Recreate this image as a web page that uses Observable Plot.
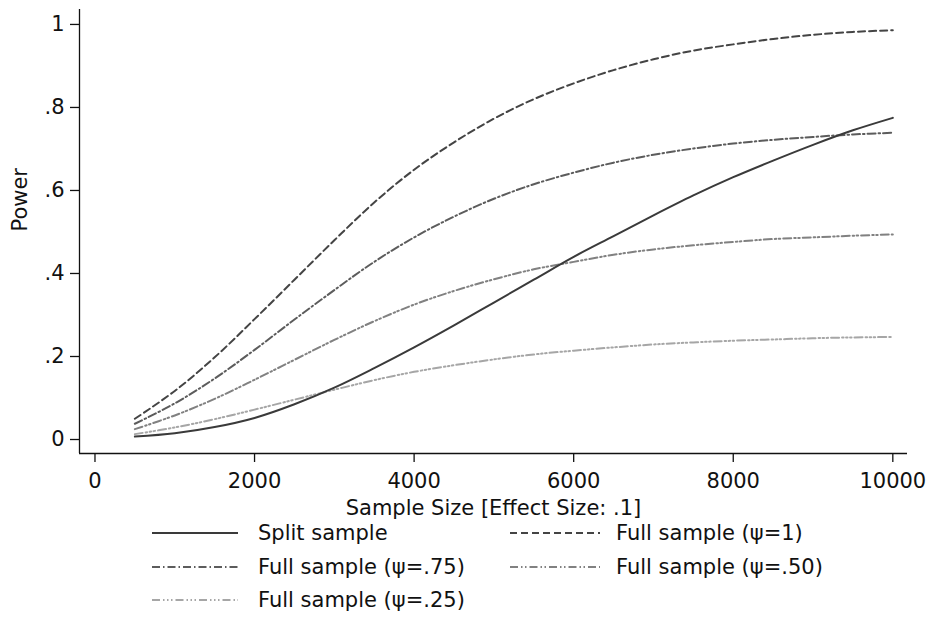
<!DOCTYPE html>
<html>
<head>
<meta charset="utf-8">
<script src="https://cdn.jsdelivr.net/npm/d3@7"></script>
<script src="https://cdn.jsdelivr.net/npm/@observablehq/plot@0.6"></script>
<style>
  html, body { margin: 0; padding: 0; background: #fff; }
  #wrap { position: relative; width: 930px; height: 638px; font-family: "DejaVu Sans", sans-serif; }
  .leg { position: absolute; display: flex; align-items: center; font-size: 21px; color: #111; white-space: nowrap; }
  .leg svg { margin-right: 20px; }
</style>
</head>
<body>
<div id="wrap"></div>
<script>
// ---- data ----
const sampleSize = [500,1000,1500,2000,2500,3000,3500,4000,4500,5000,5500,6000,6500,7000,7500,8000,8500,9000,9500,10000];
const splitSample = [0.007,0.015,0.030,0.052,0.085,0.125,0.172,0.222,0.275,0.330,0.385,0.440,0.490,0.540,0.588,0.632,0.672,0.710,0.745,0.775];
const fullPsi100 = [0.050,0.117,0.198,0.290,0.385,0.480,0.571,0.650,0.716,0.773,0.820,0.858,0.890,0.916,0.937,0.952,0.965,0.975,0.982,0.986];
const fullPsi75  = [0.038,0.087,0.147,0.216,0.289,0.360,0.428,0.487,0.537,0.580,0.615,0.643,0.667,0.686,0.701,0.713,0.722,0.729,0.735,0.739];
const fullPsi50  = [0.025,0.058,0.098,0.144,0.192,0.240,0.285,0.325,0.358,0.386,0.410,0.428,0.445,0.458,0.468,0.476,0.483,0.487,0.491,0.494];
const fullPsi25  = [0.013,0.029,0.049,0.072,0.096,0.120,0.143,0.163,0.179,0.193,0.205,0.214,0.222,0.229,0.234,0.238,0.241,0.244,0.246,0.247];

const seriesNames = ["Split sample","Full sample (ψ=1)","Full sample (ψ=.75)","Full sample (ψ=.50)","Full sample (ψ=.25)"];
const seriesValues = [splitSample, fullPsi100, fullPsi75, fullPsi50, fullPsi25];

const xTicks = [0,2000,4000,6000,8000,10000];
const yTicks = [0,0.2,0.4,0.6,0.8,1];
const yTickLabels = ["0",".2",".4",".6",".8","1"];
const xLabel = "Sample Size [Effect Size: .1]";
const yLabel = "Power";
const xDomain = [-194, 10184];
const yDomain = [-0.0337, 1.036];

// ---- styles ----
const styles = [
  {stroke:"#3a3a3a", dash:null},
  {stroke:"#444444", dash:"7,4"},
  {stroke:"#5c5c5c", dash:"8,3,1.5,3"},
  {stroke:"#818181", dash:"8,3,1.5,2.5,1.5,3"},
  {stroke:"#a6a6a6", dash:"8,3,1.5,2.5,1.5,2.5,1.5,3"}
];

const tables = seriesValues.map((vals, i) => sampleSize.map((n, j) => ({n, p: vals[j], s: seriesNames[i]})));

const font = "DejaVu Sans";
const lineMarks = tables.map((t, i) => Plot.line(t, {
  x: "n", y: "p",
  stroke: styles[i].stroke,
  strokeWidth: 2,
  strokeDasharray: styles[i].dash,
  curve: "catmull-rom"
}));

const chart = Plot.plot({
  width: 930,
  height: 520,
  marginLeft: 79,
  marginRight: 23,
  marginTop: 9,
  marginBottom: 67,
  style: {fontFamily: font, fontSize: "21px", color: "#111", background: "#fff", overflow: "visible"},
  x: {domain: xDomain},
  y: {domain: yDomain},
  marks: [
    ...lineMarks.slice().reverse(),
    Plot.ruleX([xDomain[0]], {stroke: "#111", strokeWidth: 1.3}),
    Plot.ruleY([yDomain[0]], {stroke: "#111", strokeWidth: 1.3}),
    Plot.axisX({ticks: xTicks, tickSize: 9, tickPadding: 11, label: null, stroke: "#111", strokeWidth: 1.3, tickFormat: d => String(d)}),
    Plot.axisY({ticks: yTicks, tickSize: 9, tickPadding: 6, label: null, stroke: "#111", strokeWidth: 1.3,
                tickFormat: d => yTickLabels[yTicks.indexOf(d)]}),
    Plot.text([xLabel], {text: d => d, frameAnchor: "bottom", dy: 61, fontSize: 21, fill: "#111"}),
    Plot.text([yLabel], {text: d => d, frameAnchor: "left", dx: -59, rotate: -90, fontSize: 21, fill: "#111"})
  ]
});

const wrap = document.getElementById("wrap");
wrap.appendChild(chart);

// ---- legend ----
const legendPos = [
  {left:152, top:533}, {left:510, top:533},
  {left:152, top:567}, {left:510, top:567},
  {left:152, top:600}
];
seriesNames.forEach((name, i) => {
  const item = document.createElement("div");
  item.className = "leg";
  item.style.left = legendPos[i].left + "px";
  item.style.top = (legendPos[i].top - 14) + "px";
  item.style.height = "28px";
  const w = i % 2 === 0 ? 86 : 90;
  const ns = "http://www.w3.org/2000/svg";
  const sv = document.createElementNS(ns, "svg");
  sv.setAttribute("width", w);
  sv.setAttribute("height", 10);
  sv.style.marginRight = (i % 2 === 0 ? 20 : 16) + "px";
  const ln = document.createElementNS(ns, "line");
  ln.setAttribute("x1", 0); ln.setAttribute("x2", w);
  ln.setAttribute("y1", 5); ln.setAttribute("y2", 5);
  ln.setAttribute("stroke", styles[i].stroke);
  ln.setAttribute("stroke-width", 2);
  if (styles[i].dash) ln.setAttribute("stroke-dasharray", styles[i].dash);
  sv.appendChild(ln);
  item.appendChild(sv);
  const tx = document.createElement("span");
  tx.textContent = name;
  item.appendChild(tx);
  wrap.appendChild(item);
});
</script>
</body>
</html>
